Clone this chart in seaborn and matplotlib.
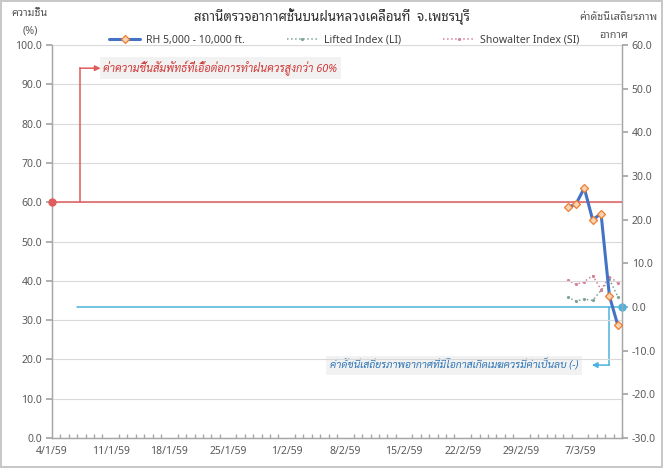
import matplotlib
matplotlib.use("Agg")
import matplotlib.pyplot as plt
import matplotlib.dates as mdates
from matplotlib import font_manager
from matplotlib.transforms import ScaledTranslation
import seaborn as sns
import pandas as pd
import numpy as np

# ข้อมูลจากกราฟ (ปี พ.ศ. 2559 = ค.ศ. 2016)
dates = pd.date_range("2016-03-05", "2016-03-11", freq="D")
rh = [58.7, 59.5, 63.6, 55.5, 57.1, 36.1, 28.7]
li = [2.2, 1.4, 1.8, 1.5, 3.8, 6.3, 2.4]
si = [6.2, 5.2, 5.8, 7.2, 4.0, 6.9, 5.6]

x_start = pd.Timestamp("2016-01-04")
x_end = pd.Timestamp("2016-03-12")
rh_threshold = 60
index_threshold = 0

title = "สถานีตรวจอากาศชั้นบนฝนหลวงเคลื่อนที่  จ.เพชรบุรี"
note_rh = "ค่าความชื้นสัมพัทธ์ที่เอื้อต่อการทำฝนควรสูงกว่า 60%"
note_idx = "ค่าดัชนีเสถียรภาพอากาศที่มีโอกาสเกิดเมฆควรมีค่าเป็นลบ (-)"

sns.set_theme(style="white")

# หา font ภาษาไทยที่มีในเครื่อง
ttf = font_manager.fontManager.ttflist
names = {f.name for f in ttf}
italic_names = {f.name for f in ttf if f.style == "italic"}
thai_font = "DejaVu Sans"
for cand in ["Noto Sans Thai Looped", "Noto Sans Thai", "Sarabun", "Tahoma",
             "IBM Plex Sans Thai Looped", "Bai Jamjuree", "Athiti"]:
    if cand in names:
        thai_font = cand
        break
thai_italic = thai_font
for cand in ["Sarabun", "Niramit", "K2D", "Krub", "KoHo", "Bai Jamjuree"]:
    if cand in italic_names:
        thai_italic = cand
        break
plt.rcParams["font.family"] = ["Noto Sans", thai_font, "DejaVu Sans"]

grey = "#595959"
c_rh = "#4472C4"
c_li = "#7FA39B"
c_si = "#D4839A"
c_red = "#E05C5C"
c_cyan = "#4BB3DD"

fig = plt.figure(figsize=(6.63, 4.68), dpi=100)
fig.patch.set_edgecolor("#c8c8c8")
fig.patch.set_linewidth(1.5)
ax = fig.add_axes([52 / 663, 30 / 468, 570 / 663, 393 / 468])
ax2 = ax.twinx()

half = pd.Timedelta(hours=12)
df = pd.DataFrame({"date": dates + half, "rh": rh, "li": li, "si": si})

sns.lineplot(data=df, x="date", y="rh", ax=ax, color=c_rh, lw=2.2,
             marker="D", markersize=4.3, markerfacecolor="#F9D3B4",
             markeredgecolor="#ED7D31", markeredgewidth=0.9, label="RH 5,000 - 10,000 ft.", zorder=5)
sns.lineplot(data=df, x="date", y="li", ax=ax2, color=c_li, lw=1.1, linestyle=":",
             marker="o", markersize=2.3, markeredgewidth=0, label="Lifted Index (LI)")
sns.lineplot(data=df, x="date", y="si", ax=ax2, color=c_si, lw=1.1, linestyle=":",
             marker="o", markersize=2.3, markeredgewidth=0, label="Showalter Index (SI)")
ax.set_zorder(ax2.get_zorder() + 1)
ax.patch.set_visible(False)

ax.set_xlim(x_start, x_end)
ax.set_ylim(0, 100)
ax2.set_ylim(-30, 60)
ax.set_yticks(np.arange(0, 101, 10))
ax2.set_yticks(np.arange(-30, 61, 10))
ax.yaxis.set_major_formatter(lambda v, p: f"{v:.1f}")
ax2.yaxis.set_major_formatter(lambda v, p: f"{v:.1f}")
ax.grid(axis="y", color="#d9d9d9", lw=0.8)
ax2.grid(False)

weeks = pd.date_range(x_start, x_end - pd.Timedelta(days=1), freq="7D")
ax.set_xticks(weeks)
ax.xaxis.set_minor_locator(mdates.DayLocator())
ax.xaxis.set_major_formatter(lambda v, p: (lambda d: f"{d.day}/{d.month}/{(d.year + 543) % 100}")(mdates.num2date(v)))
for lab in ax.get_xticklabels():
    lab.set_transform(lab.get_transform() + ScaledTranslation(3 / 72, 0, fig.dpi_scale_trans))
ax.set_xlabel("")
ax.set_ylabel("")
ax2.set_ylabel("")

for a in (ax, ax2):
    a.spines["top"].set_visible(False)
    for s in ("left", "right", "bottom"):
        a.spines[s].set_color("#a6a6a6")
        a.spines[s].set_linewidth(0.9)
ax.tick_params(axis="x", which="major", direction="inout", length=6, color="#a6a6a6",
               labelsize=7.5, labelcolor=grey, pad=3)
ax.tick_params(axis="x", which="minor", direction="in", length=3, color="#a6a6a6", bottom=True)
ax.tick_params(axis="y", direction="out", length=4, color="#a6a6a6", labelsize=7.5, labelcolor=grey, pad=3)
ax2.tick_params(axis="y", direction="out", length=4, color="#a6a6a6", labelsize=7.5, labelcolor=grey, pad=3)

# เส้นเกณฑ์ความชื้น 60%
ax.axhline(rh_threshold, color=c_red, lw=1.1, zorder=3)
ax.plot([x_start], [rh_threshold], "o", color=c_red, ms=5, clip_on=False, zorder=6)
xv = x_start + pd.Timedelta(days=3.3)
y_note = 94.1
ax.plot([xv, xv], [rh_threshold, y_note], color=c_red, lw=1.1)
ax.annotate("", xy=(x_start + pd.Timedelta(days=5.8), y_note), xytext=(xv, y_note),
            arrowprops=dict(arrowstyle="-|>", color=c_red, lw=1.1, mutation_scale=8, shrinkA=0, shrinkB=0))
ax.text(x_start + pd.Timedelta(days=6.1), y_note, note_rh, color="#D03A3A", style="italic",
        fontsize=7.9, va="center", ha="left", family=["Noto Sans", thai_italic, "DejaVu Sans"],
        bbox=dict(facecolor="#f2f2f2", edgecolor="none", pad=2.5))

# เส้นเกณฑ์ดัชนีเสถียรภาพ = 0
x0 = x_start + pd.Timedelta(days=3.0)
ax2.plot([x0, x_end], [index_threshold, index_threshold], color=c_cyan, lw=1.1)
ax2.plot([x_end], [index_threshold], "o", color=c_cyan, ms=5, clip_on=False, zorder=6)
xc = x_start + pd.Timedelta(days=66.5)
y_note2 = -13.3
ax2.plot([xc, xc], [index_threshold, y_note2], color=c_cyan, lw=1.1)
ax2.annotate("", xy=(x_start + pd.Timedelta(days=64.4), y_note2), xytext=(xc, y_note2),
             arrowprops=dict(arrowstyle="-|>", color=c_cyan, lw=1.1, mutation_scale=8, shrinkA=0, shrinkB=0))
ax2.text(x_start + pd.Timedelta(days=62.8), y_note2, note_idx, color="#2E75B6", style="italic",
         fontsize=7.4, va="center", ha="right", family=["Noto Sans", thai_italic, "DejaVu Sans"],
         bbox=dict(facecolor="#f2f2f2", edgecolor="none", pad=2.5))

# ชื่อกราฟและป้ายแกน
fig.text(0.5, 1 - 17 / 468, title, ha="center", va="center", fontsize=9.5, color="#333333")
fig.text(30 / 663, 1 - 14 / 468, "ความชื้น", ha="center", va="center", fontsize=7.8, color=grey)
fig.text(30 / 663, 1 - 31 / 468, "(%)", ha="center", va="center", fontsize=7.8, color=grey)
fig.text(658 / 663, 1 - 18 / 468, "ค่าดัชนีเสถียรภาพ", ha="right", va="center", fontsize=7.8, color=grey)
fig.text(614 / 663, 1 - 36 / 468, "อากาศ", ha="center", va="center", fontsize=7.8, color=grey)

h1, l1 = ax.get_legend_handles_labels()
h2, l2 = ax2.get_legend_handles_labels()
ax.get_legend().remove()
ax2.get_legend().remove()
fig.legend(h1 + h2, l1 + l2, loc="center", bbox_to_anchor=(344 / 663, 1 - 40 / 468), ncol=3,
           frameon=False, fontsize=7.6, handlelength=3.0, columnspacing=4.0, handletextpad=0.5,
           labelcolor="#404040")

fig.savefig("out.png", dpi=100)
